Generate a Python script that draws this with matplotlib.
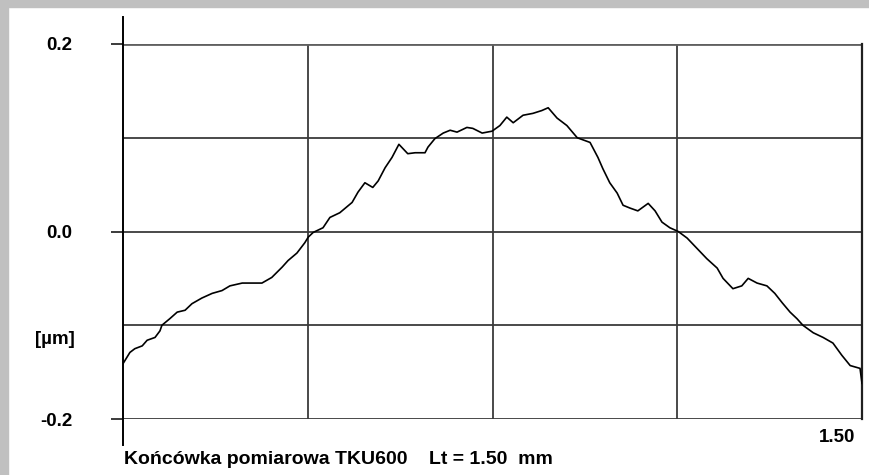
import matplotlib
matplotlib.use('Agg')
import matplotlib.pyplot as plt
from matplotlib.patches import Rectangle
from matplotlib.lines import Line2D

# profile: position [mm], height [um]
position_mm = [0.000, 0.014, 0.024, 0.039, 0.049, 0.065, 0.075, 0.079, 0.095, 0.110,
               0.126, 0.140, 0.160, 0.181, 0.201, 0.217, 0.242, 0.254, 0.282, 0.302,
               0.323, 0.335, 0.353, 0.369, 0.376, 0.386, 0.406, 0.420, 0.440, 0.465,
               0.477, 0.491, 0.507, 0.518, 0.532, 0.546, 0.560, 0.578, 0.593, 0.613,
               0.619, 0.633, 0.650, 0.664, 0.678, 0.698, 0.710, 0.729, 0.749, 0.765,
               0.779, 0.792, 0.812, 0.832, 0.850, 0.863, 0.881, 0.901, 0.922, 0.948,
               0.964, 0.974, 0.988, 1.003, 1.015, 1.029, 1.045, 1.066, 1.080, 1.094,
               1.110, 1.127, 1.145, 1.165, 1.185, 1.206, 1.218, 1.238, 1.256, 1.269,
               1.287, 1.307, 1.323, 1.338, 1.354, 1.368, 1.380, 1.401, 1.421, 1.441,
               1.459, 1.476, 1.496, 1.500]
height_um = [-0.141, -0.129, -0.125, -0.122, -0.116, -0.113, -0.106, -0.100, -0.093, -0.086,
             -0.084, -0.077, -0.071, -0.066, -0.063, -0.058, -0.055, -0.055, -0.055, -0.049,
             -0.038, -0.031, -0.023, -0.012, -0.006, -0.001, 0.004, 0.015, 0.020, 0.031,
             0.042, 0.052, 0.047, 0.054, 0.068, 0.079, 0.093, 0.083, 0.084, 0.084,
             0.090, 0.099, 0.105, 0.108, 0.106, 0.111, 0.110, 0.105, 0.107, 0.113,
             0.122, 0.116, 0.124, 0.126, 0.129, 0.132, 0.121, 0.113, 0.100, 0.095,
             0.079, 0.067, 0.052, 0.041, 0.028, 0.025, 0.022, 0.030, 0.022, 0.010,
             0.004, 0.000, -0.007, -0.018, -0.029, -0.039, -0.050, -0.061, -0.058, -0.050,
             -0.055, -0.058, -0.066, -0.076, -0.086, -0.093, -0.100, -0.108, -0.113, -0.119,
             -0.132, -0.143, -0.146, -0.162]

x_grid = [0.375, 0.75, 1.125]
y_labeled = [0.2, 0.0, -0.2]
y_labels = ['0.2', '0.0', '-0.2']
y_unlabeled = [0.1, -0.1]
unit_label = '[µm]'
end_label = '1.50'
footer = 'Końcówka pomiarowa TKU600    Lt = 1.50  mm'

W, H = 869, 475
fig = plt.figure(figsize=(W / 100, H / 100), dpi=100)
fig.patch.set_facecolor('white')
# grey frame on the top and left edge
fig.patches.append(Rectangle((0, 1 - 7 / H), 1, 7 / H, transform=fig.transFigure,
                             color='#c0c0c0', zorder=0))
fig.patches.append(Rectangle((0, 0), 8 / W, 1, transform=fig.transFigure,
                             color='#c0c0c0', zorder=0))

ax = fig.add_axes([123 / W, 56 / H, 739 / W, 375 / H])
ax.set_xlim(0, 1.5)
ax.set_ylim(-0.2, 0.2)

gcol = '#3a3a3a'
ax.set_xticks(x_grid)
ax.set_xticklabels([])
ax.tick_params(axis='x', length=0)
ax.set_yticks(y_labeled)
ax.set_yticklabels(y_labels)
ax.set_yticks(y_unlabeled, minor=True)
ax.tick_params(axis='y', which='major', length=8.6, width=1.4, color=gcol, pad=28,
               labelsize=13.5)
ax.tick_params(axis='y', which='minor', length=0)
for lab in ax.get_yticklabels():
    lab.set_fontfamily('Liberation Sans')
    lab.set_fontweight('bold')
ax.grid(True, which='both', color=gcol, lw=1.3)
ax.set_axisbelow(True)

for s in ['left', 'top', 'bottom']:
    ax.spines[s].set_visible(False)
ax.spines['right'].set_color('#202020')
ax.spines['right'].set_linewidth(1.6)
# top line is a lighter grey
ax.axhline(0.2, color='#606060', lw=2.0, zorder=1)

ax.plot(position_mm, height_um, color='black', lw=1.2, zorder=3)

# left axis line runs past the plot area
ax.add_line(Line2D([0, 0], [-0.069, 1.072], transform=ax.transAxes, color='black',
                   lw=1.4, clip_on=False))

tkw = dict(fontfamily='Liberation Sans', fontweight='bold', fontsize=13.5)
fig.text(75 / W, 1 - 340 / H, unit_label, ha='right', va='center', **tkw)
fig.text(855 / W, 1 - 437 / H, end_label, ha='right', va='center', **tkw)
tkw['fontsize'] = 14
fig.text(124 / W, 1 - 460 / H, footer, ha='left', va='center', **tkw)

fig.savefig('out.png', dpi=100)
